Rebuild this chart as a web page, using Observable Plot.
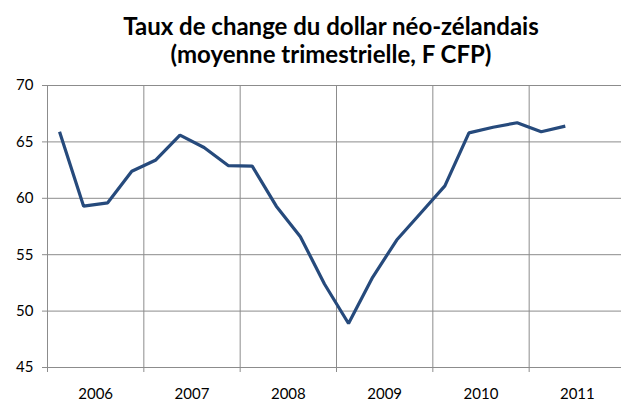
<!DOCTYPE html>
<html><head><meta charset="utf-8">
<script src="https://cdn.jsdelivr.net/npm/d3@7"></script>
<script src="https://cdn.jsdelivr.net/npm/@observablehq/plot@0.6"></script>
<style>
html,body{margin:0;padding:0;background:#fff;overflow:hidden;width:621px;height:401px;}
#title{box-sizing:border-box;width:621px;height:75px;padding-left:41px;padding-top:12px;text-align:center;font-family:Lato,"Open Sans",sans-serif;font-weight:bold;font-size:24px;line-height:28px;color:#000;}
#chart{width:625px;}
</style></head>
<body>
<div id="title">Taux de change du dollar néo-zélandais<br>(moyenne trimestrielle, F CFP)</div>
<div id="chart"></div>
<script>
const years = ["2006","2007","2008","2009","2010","2011"];
const quarters = ["2006T1","2006T2","2006T3","2006T4","2007T1","2007T2","2007T3","2007T4","2008T1","2008T2","2008T3","2008T4","2009T1","2009T2","2009T3","2009T4","2010T1","2010T2","2010T3","2010T4","2011T1","2011T2"];
const values = [65.9,59.3,59.6,62.4,63.4,65.6,64.5,62.9,62.85,59.3,56.6,52.4,48.9,53.0,56.3,58.7,61.1,65.8,66.3,66.7,65.9,66.4];
const yTicks = [45,50,55,60,65,70];

const data = values.map((v,i)=>({q:quarters[i], x:i+0.5, v}));
const yearEdges = d3.range(0, years.length*4+1, 4);
const yearCenters = years.map((y,i)=>i*4+2);

const chart = Plot.plot({
  width: 625, height: 326,
  marginTop: 10, marginBottom: 34, marginLeft: 47, marginRight: 0,
  style: {fontFamily: "Lato, 'Open Sans', sans-serif", fontSize: "15px", color: "#000", background: "#fff"},
  x: {domain: [0, years.length*4], axis: null},
  y: {domain: [45, 70], axis: null},
  marks: [
    Plot.gridY(yTicks, {stroke: "#8c8c8c", strokeOpacity: 1, strokeWidth: 1}),
    Plot.gridX(yearEdges, {stroke: "#8c8c8c", strokeOpacity: 1, strokeWidth: 1}),
    Plot.axisY(yTicks, {label: null, tickSize: 5, tickPadding: 9, stroke: "#8c8c8c", fill: "#000", fontSize: 15}),
    Plot.axisX(yearEdges, {label: null, tickSize: 5, tickFormat: () => "", stroke: "#8c8c8c"}),
    Plot.axisX(yearCenters, {label: null, tickSize: 0, tickPadding: 21, tickFormat: d => years[(d-2)/4], fill: "#000", fontSize: 15}),
    Plot.line(data, {x: "x", y: "v", stroke: "#264a7c", strokeWidth: 3.2, strokeLinejoin: "miter", strokeLinecap: "butt"})
  ]
});
document.getElementById("chart").appendChild(chart);
</script>
</body></html>
